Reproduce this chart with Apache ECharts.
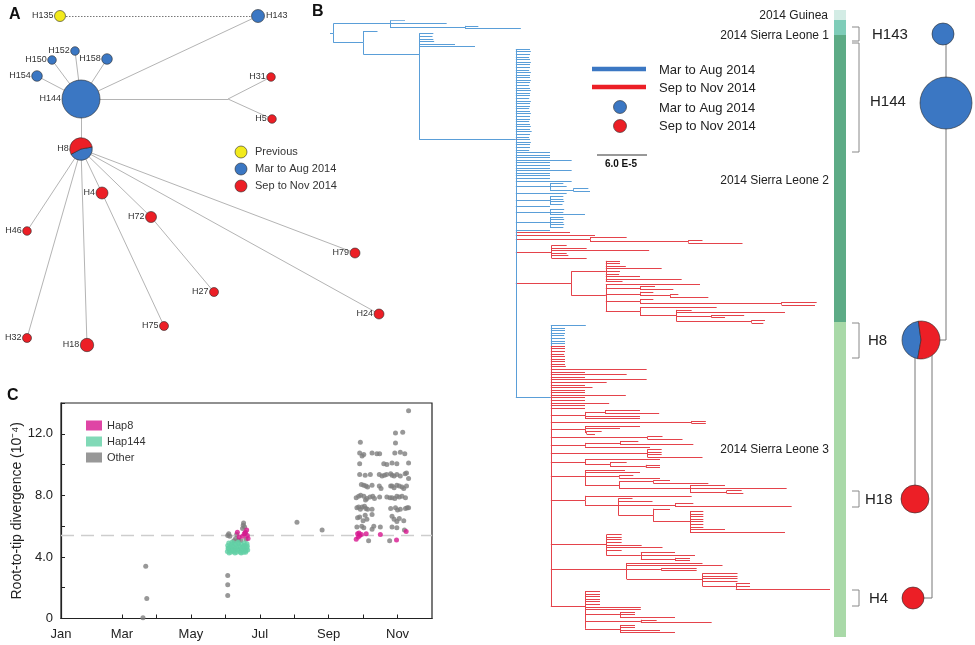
<!DOCTYPE html>
<html>
<head>
<meta charset="utf-8">
<title>Ebola virus haplotypes, Sierra Leone 2014</title>
<script src="https://cdn.jsdelivr.net/npm/echarts@6.0.0/dist/echarts.min.js"></script>
<style>
html,body{margin:0;padding:0;background:#fff;}
#chart{width:975px;height:645px;}
</style>
</head>
<body>
<div id="chart"></div>
<script>
// ---------- Panel A: haplotype network ----------
const hapNames   = ['H135','H143','H144','H152','H150','H158','H154','H31','H5','H8','H4','H72','H46','H79','H27','H24','H75','H32','H18'];
const hapLayoutX = [60, 258, 81, 75, 52, 107, 37, 271, 272, 81, 102, 151, 27, 355, 214, 379, 164, 27, 87];
const hapLayoutY = [16, 16, 99, 51, 60, 59, 76, 77, 119, 149, 193, 217, 231, 253, 292, 314, 326, 338, 345];
const hapRadius  = [5.5, 6.5, 19, 4.3, 4.3, 5.3, 5.3, 4.3, 4.3, 11.3, 6, 5.5, 4.3, 5, 4.5, 5, 4.5, 4.5, 6.7];
// share of sequences sampled Mar–Aug 2014 (-1 = earlier outbreak)
const hapEarlyShare = [-1, 1, 1, 1, 1, 1, 1, 0, 0, 0.45, 0, 0, 0, 0, 0, 0, 0, 0, 0];
const hapLabelRight = ['H143'];
const junctionNames = ['mv1'];
const junctionX = [228];
const junctionY = [99];
const hapLinks = [
  ['H135','H143'], ['H143','H144'], ['H144','H152'], ['H144','H150'], ['H144','H158'], ['H144','H154'],
  ['H144','mv1'], ['mv1','H31'], ['mv1','H5'], ['H144','H8'], ['H8','H4'], ['H4','H75'], ['H8','H72'],
  ['H72','H27'], ['H8','H46'], ['H8','H32'], ['H8','H18'], ['H8','H79'], ['H8','H24']
];
const dottedLinks = ['H135-H143'];

// ---------- Panel B: haplotypes beside the tree ----------
const cladeHapNames = ['H143','H144','H8','H18','H4'];
const cladeHapX = [943, 946, 921, 915, 913];
const cladeHapY = [34, 103, 340, 499, 598];
const cladeHapR = [11, 26, 19, 14, 11];
const cladeHapEarlyShare = [1, 1, 0.45, 0, 0];
const cladeH4ElbowX = 932;

// Phylogeny; branch lengths in units of 1e-6 substitutions/site.
// A clade is {b: stem length, p: period (0 = Mar–Aug, 1 = Sep–Nov), k: children}; a bare number is a tip.
const sl2Early = [
  17,18,17,16,17,18,17,17,16,18, 17,17,18,17,16,17,18,17,17,16,
  18,17,17,16,17,18,17,17,16,17, 18,17,19,17,16,17,18,17,17,16,
  41,41,41,67,41,41,41,67,41,41,41,
  67,
  {b:41, k:[16,20,{b:28, k:[18,20]}]},
  61,
  {b:41, k:[16,16,17,15]},
  41,
  {b:41, k:[17,16,42]},
  {b:41, k:[16,17,16,17,16]},
  41
];
const sl2Late = [
  {b:65, p:1},
  {b:95, p:1},
  {b:89, p:1, k:[44, {b:118, k:[17,65]}]},
  {b:43, p:1, k:[18,42,117,18,20,42]},
  {b:67, p:1, k:[
    {b:41, k:[17,17,24,67,17,16,41,91,20]},
    {b:41, k:[113, {b:41, k:[18,40]}, {b:41, k:[16,{b:36, k:[10,46]}]}, {b:41, k:[16,{b:170, k:[42,40]}]},
             {b:41, k:[92,{b:44, k:[18,130,{b:42, k:[39,16]},{b:90, k:[16,14]}]}]}]}
  ]}
];
const sl3Clades = [
  {b:41, k:[48,66,{b:41, k:[17,49]},{b:41, k:[{b:41, k:[20,66]},{b:85, k:[42,116,{b:44, k:[18,20]}]}]}]},
  {b:41, k:[128,{b:40, k:[17,41,{b:68, k:[22,140]},{b:42, k:[20,{b:44, k:[16,16,16,16,16,16,16,42,114]}]}]}]},
  {b:67, k:[18,18,18,18,42,67,18,{b:41, k:[41,65,{b:41, k:[18,18]}]}]},
  {b:91, k:[91,115,{b:42, k:[42,42]},{b:91, k:[42,42,42,42,{b:40, k:[17,17,113]}]}]},
  {b:41, k:[18,18,18,18,18,18,67,67,{b:42, k:[18,18,66]},{b:67, k:[19,85]},{b:42, k:[18,18,48,66]}]}
];
const sl3 = {b:42, p:1, k:[
  {b:42,p:0},{b:17,p:0},{b:17,p:0},{b:17,p:0},{b:16,p:0},{b:17,p:0},{b:17,p:0},{b:17,p:0},
  17,17,17,16,17,17,17,17,18,
  115,41,91,41,115,67,41,50,41,41,90,41,41,70,41,41,
  {b:41, k:[{b:24, k:[42,65]},66,66]},
  {b:169, k:[17,17]},
  {b:41, k:[66,42,{b:2, k:[18,10]}]},
  {b:116, k:[18,42]},
  {b:41, k:[{b:42, k:[22,88]},78]},
  {b:116, k:[17,17,17,66]},
  {b:41, k:[90,{b:30, k:[20,{b:43, k:[17,17]}]}]},
  ...sl3Clades
]};
const tree = {b:4, p:0, k:[
  {b:68, k:[18, 68, {b:90, k:[16, 67]}]},
  {b:36, k:[17, {b:67, k:[17,16,17,18,43,67, {b:116, k:[...sl2Early, ...sl2Late, sl3]}]}]}
]};
const treeMaxLength = 600;

// ---------- Panel C: root-to-tip divergence ----------
const monthNames = ['Jan','Feb','Mar','Apr','May','Jun','Jul','Aug','Sep','Oct','Nov','Dec'];
const divergenceRef = 5.4;
const hap8Pts = [
  [5.35,5.6],[5.40,5.3],[5.58,5.6],[5.62,5.75],[5.64,5.4],[5.50,5.35],[5.66,5.2],[5.55,5.5],
  [8.80,5.15],[8.84,5.5],[8.88,5.55],[8.90,5.4],[8.95,5.45],[8.86,5.3],[9.09,5.5],[9.50,5.45],
  [9.97,5.1],[10.25,5.65]
];
const hap144Pts = [
  [5.06,4.35],[5.08,4.55],[5.07,4.75],[5.10,4.9],[5.12,4.4],[5.14,4.65],[5.16,4.3],[5.18,4.8],[5.20,4.5],[5.22,4.7],
  [5.24,4.35],[5.25,4.9],[5.27,4.6],[5.29,4.45],[5.31,4.8],[5.33,4.3],[5.34,4.65],[5.36,4.5],[5.38,4.85],[5.40,4.4],
  [5.42,4.7],[5.44,4.3],[5.45,4.55],[5.47,4.8],[5.49,4.45],[5.51,4.65],[5.53,4.3],[5.55,4.9],[5.56,4.5],[5.58,4.75],
  [5.60,4.4],[5.62,4.6],[5.63,4.85],[5.65,4.45],[5.11,4.25],[5.19,4.95],[5.28,4.25],[5.37,4.95],[5.46,4.25],[5.54,4.7],
  [5.59,4.3],[5.64,4.7],[5.09,4.6],[5.21,4.4]
];
const otherPts = [
  [2.61,0.05],[2.72,1.3],[2.69,3.4],
  [5.07,1.5],[5.07,2.2],[5.07,2.8],
  [5.07,5.4],[5.10,5.5],[5.13,5.35],[5.30,5.2],[5.38,5.1],[5.45,5.05],[5.50,5.85],[5.52,6.05],[5.53,6.2],
  [5.56,5.95],[5.58,5.55],[5.33,5.45],[5.60,5.15],[5.25,5.05],
  [7.08,6.25],[7.81,5.75],
  [8.92,11.45],[8.90,10.75],[9.02,10.65],[8.97,10.55],[9.26,10.75],[9.40,10.7],[9.48,10.7],
  [8.90,10.05],
  [8.90,9.35],[9.06,9.3],[9.21,9.35],[9.47,9.35],[9.55,9.25],
  [8.95,8.7],[9.02,8.65],[9.08,8.6],[9.13,8.55],[9.26,8.65],[9.47,8.6],[9.52,8.45],
  [8.80,7.85],[8.87,7.95],[8.93,8.0],[9.02,7.95],[9.07,7.7],[9.11,7.8],[9.20,7.9],[9.28,7.95],[9.33,7.8],[9.48,7.9],
  [8.82,7.2],[8.87,7.25],[8.92,7.1],[8.97,7.25],[9.04,7.3],[9.08,7.15],[9.13,7.1],[9.26,7.1],
  [8.84,6.55],[8.90,6.6],[9.00,6.35],[9.06,6.7],[9.11,6.45],[9.26,6.75],[9.31,6.0],
  [8.82,5.95],[8.96,6.0],[9.02,5.9],[9.26,5.8],[9.50,5.95],
  [9.16,5.05],
  [10.32,13.5],[9.94,12.05],[10.15,12.1],[9.94,11.4],
  [9.92,10.75],[10.08,10.8],[10.21,10.7],
  [9.60,10.05],[9.69,10.0],[9.84,10.1],[9.98,10.05],[10.32,10.1],
  [9.62,9.3],[9.68,9.35],[9.80,9.4],[9.84,9.3],[9.90,9.25],[9.98,9.35],[10.08,9.25],[10.22,9.4],[10.26,9.45],[10.32,9.1],
  [9.80,8.6],[9.84,8.6],[9.90,8.5],[9.98,8.65],[10.05,8.6],[10.13,8.55],[10.18,8.45],[10.26,8.6],
  [9.69,7.9],[9.78,7.85],[9.84,7.85],[9.92,7.8],[9.98,7.95],[10.05,7.9],[10.13,7.95],[10.23,7.85],
  [9.80,7.15],[9.94,7.2],[10.00,7.05],[10.08,7.1],[10.23,7.15],[10.28,7.2],[10.32,7.2],
  [9.84,6.65],[9.90,6.45],[9.98,6.3],[10.05,6.5],[10.18,6.35],
  [9.84,5.95],[9.98,5.9],[10.20,5.75],
  [9.77,5.05]
];

// ---------- styling ----------
const FONT = 'Arial, "Liberation Sans", sans-serif';
const EARLY = '#3b77c3', LATE = '#ec1f26', PREV = '#f2ea1c';
const TREE_EARLY = '#5a9ed8', TREE_LATE = '#e4434b';
const EDGE = '#b4b4b4';

// ---------- tree layout ----------
let tipCount = 0;
function place(node, x0, p) {
  const isObj = typeof node === 'object';
  const len = isObj ? node.b : node;
  const per = isObj && node.p !== undefined ? node.p : p;
  const x = x0 + len;
  if (!isObj || !node.k) return {x: x, y: tipCount++, late: per === 1};
  const kids = node.k.map(c => place(c, x, per));
  const y = kids.reduce((s, c) => s + c.y, 0) / kids.length;
  return {x: x, y: y, late: kids.every(c => c.late), kids: kids};
}
const treeSegs = [];
function emit(n, x0) {
  treeSegs.push({coords: [[x0, n.y], [n.x, n.y]], late: n.late});
  if (n.kids) n.kids.forEach(c => {
    treeSegs.push({coords: [[n.x, n.y], [n.x, c.y]], late: c.late});
    emit(c, n.x);
  });
}
emit(place(tree, 0, 0), 0);

// ---------- helpers ----------
function txt(x, y, text, font, align, color) {
  return {type: 'text', x: x, y: y, silent: true, style: {
    text: text, font: font, fill: color || '#222',
    textAlign: align || 'left', textVerticalAlign: 'middle', align: align || 'left', verticalAlign: 'middle'
  }};
}
function hapGlyph(cx, cy, r, share, startDeg) {
  const edge = {stroke: '#2a2a2a', lineWidth: 0.6};
  if (share < 0) return [{type: 'circle', shape: {cx, cy, r}, style: Object.assign({fill: PREV}, edge)}];
  if (share >= 1) return [{type: 'circle', shape: {cx, cy, r}, style: Object.assign({fill: EARLY}, edge)}];
  if (share <= 0) return [{type: 'circle', shape: {cx, cy, r}, style: Object.assign({fill: LATE}, edge)}];
  const a0 = startDeg * Math.PI / 180, a1 = a0 + share * 2 * Math.PI;
  return [
    {type: 'sector', shape: {cx, cy, r, r0: 0, startAngle: a0, endAngle: a1, clockwise: true}, style: Object.assign({fill: EARLY}, edge)},
    {type: 'sector', shape: {cx, cy, r, r0: 0, startAngle: a1, endAngle: a0 + 2 * Math.PI, clockwise: true}, style: Object.assign({fill: LATE}, edge)}
  ];
}
function netPos(name) {
  const i = hapNames.indexOf(name);
  if (i >= 0) return [hapLayoutX[i], hapLayoutY[i]];
  const j = junctionNames.indexOf(name);
  return [junctionX[j], junctionY[j]];
}

const netEdges = hapLinks.map(l => {
  const dotted = dottedLinks.indexOf(l[0] + '-' + l[1]) >= 0;
  return {coords: [netPos(l[0]), netPos(l[1])],
          lineStyle: dotted ? {color: '#777', width: 1, type: [1.5, 1.5]} : {color: EDGE, width: 1, type: 'solid'}};
});
const cladeEdges = [
  {coords: [[cladeHapX[1], cladeHapY[0]], [cladeHapX[1], cladeHapY[1]]]},
  {coords: [[cladeHapX[1], cladeHapY[1]], [cladeHapX[1], cladeHapY[2]], [cladeHapX[2], cladeHapY[2]]]},
  {coords: [[cladeHapX[3], cladeHapY[2]], [cladeHapX[3], cladeHapY[3]]]},
  {coords: [[cladeH4ElbowX, cladeHapY[2]], [cladeH4ElbowX, cladeHapY[4]], [cladeHapX[4], cladeHapY[4]]]}
];

// ---------- static annotations ----------
const graphics = [
  txt(9, 15, 'A', 'bold 16px ' + FONT, 'left', '#111'),
  txt(312, 12, 'B', 'bold 16px ' + FONT, 'left', '#111'),
  txt(7, 396, 'C', 'bold 16px ' + FONT, 'left', '#111'),
  // panel A key
  {type: 'circle', shape: {cx: 241, cy: 152, r: 6}, style: {fill: PREV, stroke: '#2a2a2a', lineWidth: 0.6}},
  {type: 'circle', shape: {cx: 241, cy: 169, r: 6}, style: {fill: EARLY, stroke: '#2a2a2a', lineWidth: 0.6}},
  {type: 'circle', shape: {cx: 241, cy: 186, r: 6}, style: {fill: LATE, stroke: '#2a2a2a', lineWidth: 0.6}},
  txt(255, 152, 'Previous', '11px ' + FONT, 'left', '#333'),
  txt(255, 169, 'Mar to Aug 2014', '11px ' + FONT, 'left', '#333'),
  txt(255, 186, 'Sep to Nov 2014', '11px ' + FONT, 'left', '#333'),
  // tree key
  {type: 'line', shape: {x1: 592, y1: 69, x2: 646, y2: 69}, style: {stroke: EARLY, lineWidth: 4.5}},
  {type: 'line', shape: {x1: 592, y1: 87, x2: 646, y2: 87}, style: {stroke: LATE, lineWidth: 4.5}},
  {type: 'circle', shape: {cx: 620, cy: 107, r: 6.5}, style: {fill: EARLY, stroke: '#2a2a2a', lineWidth: 0.6}},
  {type: 'circle', shape: {cx: 620, cy: 126, r: 6.5}, style: {fill: LATE, stroke: '#2a2a2a', lineWidth: 0.6}},
  txt(659, 70, 'Mar to Aug 2014', '13px ' + FONT, 'left', '#222'),
  txt(659, 88, 'Sep to Nov 2014', '13px ' + FONT, 'left', '#222'),
  txt(659, 108, 'Mar to Aug 2014', '13px ' + FONT, 'left', '#222'),
  txt(659, 126, 'Sep to Nov 2014', '13px ' + FONT, 'left', '#222'),
  {type: 'line', shape: {x1: 597, y1: 155, x2: 647, y2: 155}, style: {stroke: '#333', lineWidth: 1}},
  txt(621, 164, '6.0 E-5', 'bold 10px ' + FONT, 'center', '#111'),
  // lineage bar
  {type: 'rect', shape: {x: 834, y: 10, width: 12, height: 10}, style: {fill: '#d3ece5'}},
  {type: 'rect', shape: {x: 834, y: 20, width: 12, height: 15}, style: {fill: '#7fcdb9'}},
  {type: 'rect', shape: {x: 834, y: 35, width: 12, height: 287}, style: {fill: '#5dab86'}},
  {type: 'rect', shape: {x: 834, y: 322, width: 12, height: 315}, style: {fill: '#a9d9a8'}},
  txt(828, 16, '2014 Guinea', '12px ' + FONT, 'right', '#222'),
  txt(829, 36, '2014 Sierra Leone 1', '12px ' + FONT, 'right', '#222'),
  txt(829, 181, '2014 Sierra Leone 2', '12px ' + FONT, 'right', '#222'),
  txt(829, 450, '2014 Sierra Leone 3', '12px ' + FONT, 'right', '#222'),
  // haplotype brackets
  {type: 'polyline', shape: {points: [[852, 27], [859, 27], [859, 41], [852, 41]]}, style: {stroke: '#888', fill: null, lineWidth: 1}},
  {type: 'polyline', shape: {points: [[852, 43], [859, 43], [859, 152], [852, 152]]}, style: {stroke: '#888', fill: null, lineWidth: 1}},
  {type: 'polyline', shape: {points: [[852, 323], [859, 323], [859, 358], [852, 358]]}, style: {stroke: '#888', fill: null, lineWidth: 1}},
  {type: 'polyline', shape: {points: [[852, 491], [859, 491], [859, 507], [852, 507]]}, style: {stroke: '#888', fill: null, lineWidth: 1}},
  {type: 'polyline', shape: {points: [[852, 590], [859, 590], [859, 606], [852, 606]]}, style: {stroke: '#888', fill: null, lineWidth: 1}},
  txt(872, 35, 'H143', '15px ' + FONT, 'left', '#222'),
  txt(870, 102, 'H144', '15px ' + FONT, 'left', '#222'),
  txt(868, 341, 'H8', '15px ' + FONT, 'left', '#222'),
  txt(865, 500, 'H18', '15px ' + FONT, 'left', '#222'),
  txt(869, 599, 'H4', '15px ' + FONT, 'left', '#222')
];

const chart = echarts.init(document.getElementById('chart'));
chart.setOption({
  animation: false,
  backgroundColor: '#fff',
  textStyle: {fontFamily: FONT},
  grid: [
    {left: 61, top: 403, width: 371, height: 215.5, show: true, borderColor: '#222', borderWidth: 1.2, outerBoundsMode: 'none', containLabel: false},
    {left: 330, top: 20.7, width: 500, height: 612, show: false, outerBoundsMode: 'none', containLabel: false},
    {left: 0, top: 0, width: 975, height: 645, show: false, outerBoundsMode: 'none', containLabel: false}
  ],
  xAxis: [
    {gridIndex: 0, type: 'value', min: 0.23, max: 11,
     axisLine: {show: true, lineStyle: {color: '#222', width: 1.2}},
     axisTick: {show: true, inside: true, length: 4, customValues: [2,3,4,5,6,7,8,9,10], lineStyle: {color: '#222'}},
     axisLabel: {show: true, customValues: [0.23, 2, 4, 6, 8, 10], formatter: v => monthNames[Math.round(v)],
                 color: '#222', fontSize: 13, margin: 9, fontFamily: FONT},
     splitLine: {show: false}},
    {gridIndex: 1, type: 'value', min: 0, max: treeMaxLength, show: false},
    {gridIndex: 2, type: 'value', min: 0, max: 975, show: false}
  ],
  yAxis: [
    {gridIndex: 0, type: 'value', min: 0, max: 14, interval: 2,
     name: 'Root-to-tip divergence (10\u207B\u2074)', nameLocation: 'middle', nameGap: 37, nameRotate: 90,
     nameTextStyle: {color: '#222', fontSize: 14, fontFamily: FONT},
     axisLine: {show: true, lineStyle: {color: '#222', width: 1.2}},
     axisTick: {show: true, inside: true, length: 4, lineStyle: {color: '#222'}},
     axisLabel: {color: '#222', fontSize: 13, margin: 8, fontFamily: FONT,
                 formatter: v => (v % 4 !== 0 ? '' : (v === 0 ? '0' : v.toFixed(1)))},
     splitLine: {show: false}},
    {gridIndex: 1, type: 'value', min: 0, max: tipCount - 1, inverse: true, show: false},
    {gridIndex: 2, type: 'value', min: 0, max: 645, inverse: true, show: false}
  ],
  legend: {
    data: [{name: 'Hap8', icon: 'rect'}, {name: 'Hap144', icon: 'rect'}, {name: 'Other', icon: 'rect'}],
    orient: 'vertical', left: 81, top: 415, itemWidth: 16, itemHeight: 10, itemGap: 5,
    textStyle: {fontSize: 11, color: '#333', fontFamily: FONT}, selectedMode: false
  },
  series: [
    {name: 'reference', type: 'line', xAxisIndex: 0, yAxisIndex: 0, showSymbol: false, silent: true,
     data: [[0.23, divergenceRef], [11, divergenceRef]],
     lineStyle: {color: '#cdcdcd', width: 1.5, type: [13, 7]}, z: 1},
    {name: 'Other', type: 'scatter', xAxisIndex: 0, yAxisIndex: 0, data: otherPts, symbolSize: 5,
     itemStyle: {color: '#7e7e7e'}, z: 2},
    {name: 'Hap144', type: 'scatter', xAxisIndex: 0, yAxisIndex: 0, data: hap144Pts, symbolSize: 5,
     itemStyle: {color: '#62cfa5'}, z: 3},
    {name: 'Hap8', type: 'scatter', xAxisIndex: 0, yAxisIndex: 0, data: hap8Pts, symbolSize: 5,
     itemStyle: {color: '#d7168f'}, z: 4},
    {name: 'tree', type: 'lines', coordinateSystem: 'cartesian2d', xAxisIndex: 1, yAxisIndex: 1, silent: true,
     polyline: false, lineStyle: {width: 1, opacity: 1},
     data: treeSegs.map(s => ({coords: s.coords, lineStyle: {color: s.late ? TREE_LATE : TREE_EARLY, opacity: 1}}))},
    {name: 'network links', type: 'lines', coordinateSystem: 'cartesian2d', xAxisIndex: 2, yAxisIndex: 2, silent: true,
     polyline: false, lineStyle: {opacity: 1}, data: netEdges, z: 2},
    {name: 'network nodes', type: 'custom', coordinateSystem: 'cartesian2d', xAxisIndex: 2, yAxisIndex: 2, silent: true, clip: false,
     data: hapNames.map((n, i) => [hapLayoutX[i], hapLayoutY[i]]), z: 3,
     renderItem: (params, api) => {
       const i = params.dataIndex;
       const pt = api.coord([api.value(0), api.value(1)]);
       const r = hapRadius[i];
       const kids = hapGlyph(pt[0], pt[1], r, hapEarlyShare[i], 350);
       const right = hapLabelRight.indexOf(hapNames[i]) >= 0;
       kids.push(txt(right ? pt[0] + r + 1.5 : pt[0] - r - 1, pt[1], hapNames[i], '9px ' + FONT, right ? 'left' : 'right', '#333'));
       return {type: 'group', children: kids};
     }},
    {name: 'clade links', type: 'lines', coordinateSystem: 'cartesian2d', xAxisIndex: 2, yAxisIndex: 2, silent: true,
     polyline: true, lineStyle: {color: '#777', width: 1, opacity: 1}, data: cladeEdges, z: 2},
    {name: 'clade nodes', type: 'custom', coordinateSystem: 'cartesian2d', xAxisIndex: 2, yAxisIndex: 2, silent: true, clip: false,
     data: cladeHapNames.map((n, i) => [cladeHapX[i], cladeHapY[i]]), z: 3,
     renderItem: (params, api) => {
       const i = params.dataIndex;
       const pt = api.coord([api.value(0), api.value(1)]);
       return {type: 'group', children: hapGlyph(pt[0], pt[1], cladeHapR[i], cladeHapEarlyShare[i], 100)};
     }}
  ],
  graphic: graphics
});
</script>
</body>
</html>
